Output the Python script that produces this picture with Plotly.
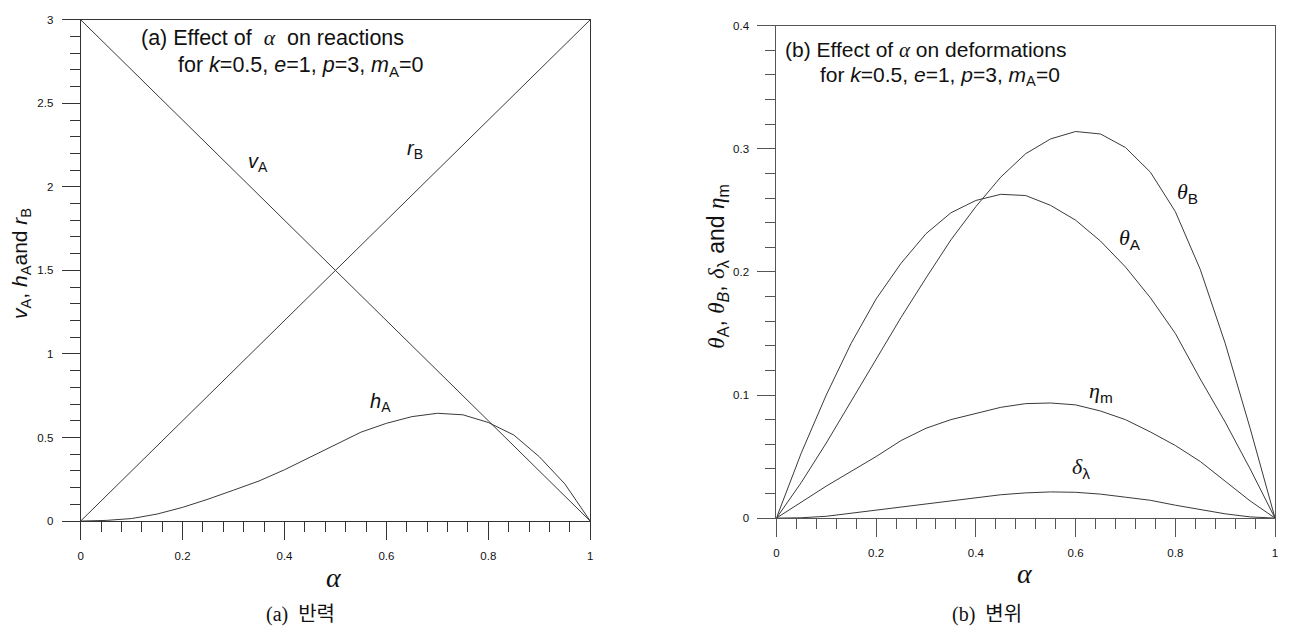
import plotly.graph_objects as go

# ---------------- data ----------------
alpha = [0.00, 0.05, 0.10, 0.15, 0.20, 0.25, 0.30, 0.35, 0.40, 0.45, 0.50,
         0.55, 0.60, 0.65, 0.70, 0.75, 0.80, 0.85, 0.90, 0.95, 1.00]

# (a) reactions
v_A = [3.00, 2.85, 2.70, 2.55, 2.40, 2.25, 2.10, 1.95, 1.80, 1.65, 1.50,
       1.35, 1.20, 1.05, 0.90, 0.75, 0.60, 0.45, 0.30, 0.15, 0.00]
r_B = [0.00, 0.15, 0.30, 0.45, 0.60, 0.75, 0.90, 1.05, 1.20, 1.35, 1.50,
       1.65, 1.80, 1.95, 2.10, 2.25, 2.40, 2.55, 2.70, 2.85, 3.00]
h_A = [0.000, 0.004, 0.015, 0.042, 0.082, 0.131, 0.185, 0.240, 0.307, 0.383, 0.458,
       0.532, 0.585, 0.625, 0.645, 0.636, 0.590, 0.515, 0.385, 0.223, 0.000]

# (b) deformations
theta_B = [0.000, 0.029, 0.061, 0.095, 0.129, 0.163, 0.195, 0.226, 0.253, 0.277, 0.296,
           0.308, 0.314, 0.312, 0.301, 0.281, 0.249, 0.202, 0.142, 0.073, 0.000]
theta_A = [0.000, 0.053, 0.100, 0.142, 0.178, 0.207, 0.231, 0.248, 0.258, 0.263, 0.262,
           0.254, 0.242, 0.225, 0.204, 0.179, 0.150, 0.113, 0.078, 0.040, 0.000]
eta_m = [0.000, 0.013, 0.026, 0.038, 0.050, 0.063, 0.073, 0.080, 0.085, 0.090, 0.093,
         0.0935, 0.092, 0.087, 0.080, 0.070, 0.059, 0.046, 0.030, 0.014, 0.000]
delta_l = [0.0000, 0.0003, 0.0015, 0.0040, 0.0070, 0.0095, 0.0120, 0.0145, 0.0170, 0.0190, 0.0205,
           0.0213, 0.0210, 0.0195, 0.0170, 0.0145, 0.0105, 0.0070, 0.0035, 0.0010, 0.0000]

# ---------------- page geometry ----------------
W, H = 1289, 635


def px(x):
    return x / W


def py(y):
    return 1 - y / H


SANS = "Arial, Liberation Sans, sans-serif"
SERIF = "Liberation Serif, Times New Roman, serif"
CJK_SERIF = "Liberation Serif, Noto Sans CJK KR, serif"
CURVE = "#3a3a3a"


def g(sym):
    """Greek symbol set in italic serif."""
    return f"<span style='font-family:Liberation Serif'><i>{sym}</i></span>"


fig = go.Figure()

for ys in (v_A, r_B, h_A):
    fig.add_trace(go.Scatter(x=alpha, y=ys, mode="lines", xaxis="x", yaxis="y",
                             line=dict(color=CURVE, width=1), showlegend=False,
                             hoverinfo="skip"))
for ys in (theta_B, theta_A, eta_m, delta_l):
    fig.add_trace(go.Scatter(x=alpha, y=ys, mode="lines", xaxis="x2", yaxis="y2",
                             line=dict(color=CURVE, width=1), showlegend=False,
                             hoverinfo="skip"))


def axis(domain, rng, dtick, minor_dtick, line_color, anchor):
    return dict(
        domain=domain, range=rng, anchor=anchor,
        tickmode="linear", tick0=0, dtick=dtick,
        ticks="outside", ticklen=18, tickwidth=1, tickcolor=line_color,
        minor=dict(tick0=0, dtick=minor_dtick, ticks="outside", ticklen=10,
                   tickwidth=1, tickcolor=line_color, showgrid=False),
        showline=True, linecolor=line_color, linewidth=1, mirror=True,
        showgrid=False, zeroline=False,
        tickfont=dict(family=SANS, size=11.5, color="#111"),
        ticklabelstandoff=6,
    )


fig.update_layout(
    width=W, height=H,
    margin=dict(l=0, r=0, t=0, b=0),
    paper_bgcolor="white", plot_bgcolor="white",
    xaxis=axis([px(78), px(590)], [0, 1], 0.2, 0.04, "#333", "y"),
    yaxis=axis([py(525), py(14)], [0, 3], 0.5, 0.1, "#333", "x"),
    xaxis2=axis([px(777), px(1278)], [0, 1], 0.2, 0.04, "#555", "y2"),
    yaxis2=axis([py(522), py(20)], [0, 0.4], 0.1, 0.02, "#555", "x2"),
)

ann = []


def text(x, y, s, size=17, family=SANS, xanchor="center", angle=0):
    ann.append(dict(x=px(x), y=py(y), xref="paper", yref="paper", text=s,
                    showarrow=False, xanchor=xanchor, yanchor="middle",
                    textangle=angle, font=dict(family=family, size=size, color="#111")))


# panel headings
text(137, 33, "(a) Effect of  " + g("α") + "  on reactions", size=21.5, xanchor="left")
text(174, 62, "for <i>k</i>=0.5, <i>e</i>=1, <i>p</i>=3, <i>m</i><sub>A</sub>=0",
     size=21.5, xanchor="left")
text(784, 45, "(b) Effect of " + g("α") + " on deformations", size=21, xanchor="left")
text(819, 71, "for <i>k</i>=0.5, <i>e</i>=1, <i>p</i>=3, <i>m</i><sub>A</sub>=0",
     size=21, xanchor="left")

# curve labels, panel (a)
text(256, 160, "<i>v</i><sub>A</sub>", size=20)
text(414, 146, "<i>r</i><sub>B</sub>", size=20)
text(379, 404, "<i>h</i><sub>A</sub>", size=20)

# curve labels, panel (b)
text(1190, 191, g("θ") + "<sub>B</sub>", size=22)
text(1132, 237, g("θ") + "<sub>A</sub>", size=22)
text(1103, 393, g("η") + "<sub>m</sub>", size=22)
text(1083, 471, g("δ") + "<sub>λ</sub>", size=22)

# axis titles
text(333, 582, "<i>α</i>", size=28, family=SERIF)
text(1027, 578, "<i>α</i>", size=28, family=SERIF)
text(18, 262, "<i>v</i><sub>A</sub>, <i>h</i><sub>A</sub>and <i>r</i><sub>B</sub>",
     size=21, angle=-90)
text(718, 266, g("θ") + "<sub>A</sub>, " + g("θ") + "<sub><i>B</i></sub>, "
     + g("δ") + "<sub>λ</sub> and " + g("η") + "<sub>m</sub>", size=23, angle=-90)

# captions
text(299, 620, "(a)  반력", size=20, family=CJK_SERIF)
text(989, 620, "(b)  변위", size=20, family=CJK_SERIF)

fig.update_layout(annotations=ann)

fig.write_html("out.html")
